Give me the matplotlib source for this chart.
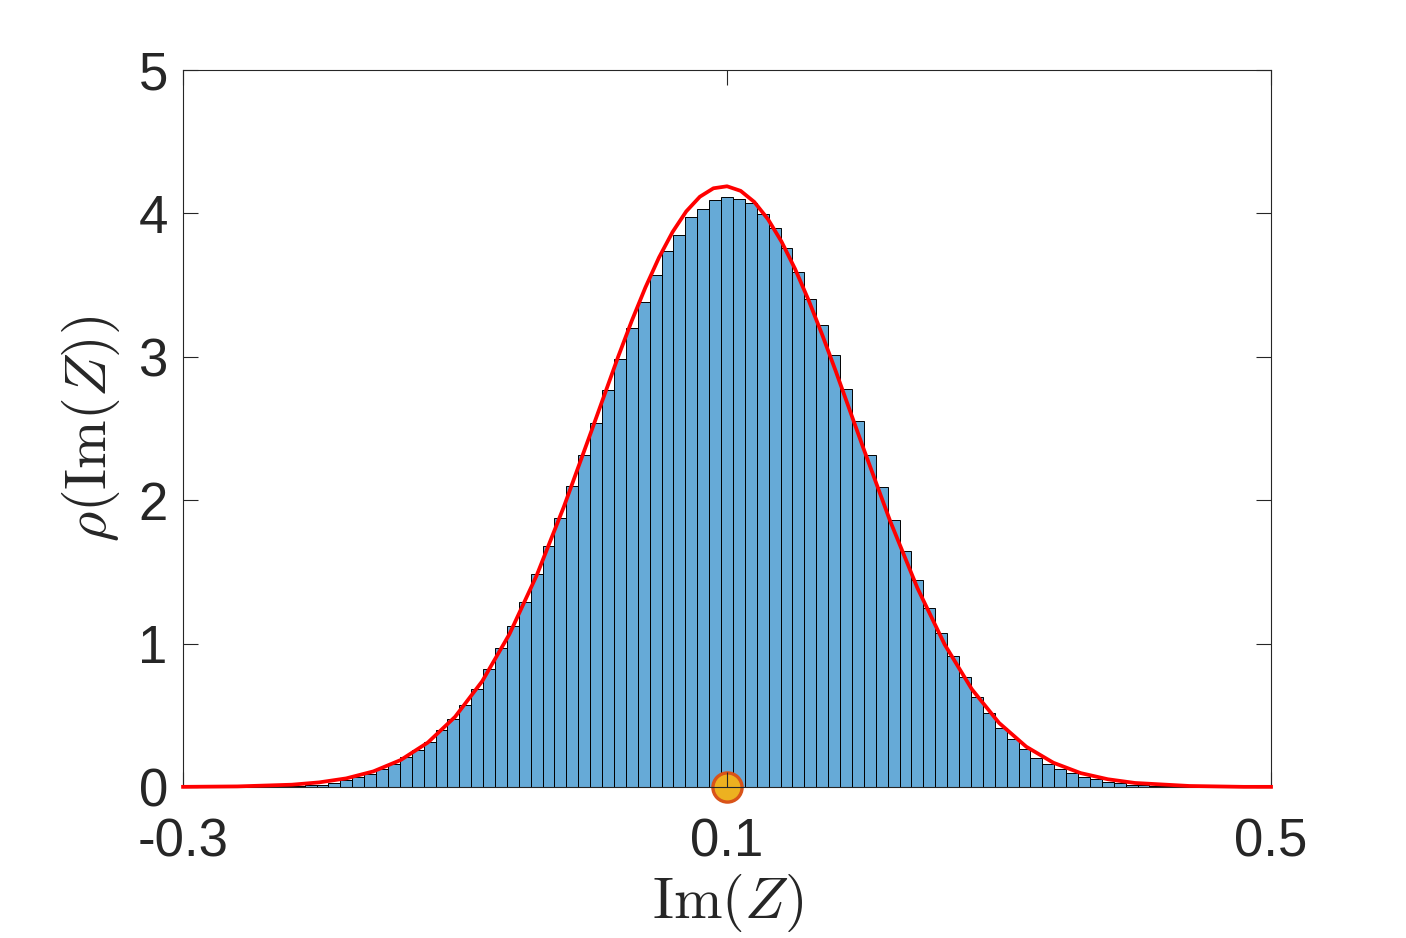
import matplotlib.pyplot as plt
import numpy as np

# histogram (pdf normalised), bins of width 0.00875, one bin centred on 0.1
bin_width = 0.00875
bin_index = np.arange(-40, 41)
heights = [0.002, 0.003, 0.004, 0.006, 0.008, 0.011,
           0.016, 0.030, 0.050, 0.069, 0.094, 0.127, 0.162, 0.206, 0.257, 0.317,
           0.394, 0.477, 0.575, 0.686, 0.822, 0.971, 1.122, 1.291, 1.482, 1.679,
           1.879, 2.098, 2.314, 2.537, 2.767, 2.987, 3.202, 3.383, 3.573, 3.740,
           3.847, 3.972, 4.032, 4.095, 4.114, 4.102, 4.070, 3.995, 3.895, 3.761,
           3.594, 3.405, 3.224, 3.015, 2.774, 2.553, 2.318, 2.095, 1.863, 1.645,
           1.445, 1.247, 1.071, 0.910, 0.769, 0.627, 0.513, 0.413, 0.332, 0.265,
           0.204, 0.160, 0.123, 0.095, 0.072, 0.054, 0.037, 0.026, 0.016, 0.011,
           0.007, 0.005, 0.003, 0.002, 0.001]

# red fitted density
curve_x = [-0.30, -0.26, -0.22, -0.20, -0.18, -0.16, -0.14, -0.12, -0.10, -0.08,
           -0.06, -0.04, -0.02, 0.00, 0.02, 0.03, 0.04, 0.05, 0.06, 0.07,
           0.08, 0.09, 0.10, 0.11, 0.12, 0.13, 0.14, 0.15, 0.16, 0.17,
           0.18, 0.20, 0.22, 0.24, 0.26, 0.28, 0.30, 0.32, 0.34, 0.36,
           0.38, 0.40, 0.44, 0.48, 0.50]
curve_y = [0.001, 0.004, 0.016, 0.032, 0.060, 0.109, 0.188, 0.310, 0.489, 0.738,
           1.066, 1.475, 1.954, 2.475, 3.002, 3.252, 3.484, 3.693, 3.871, 4.014,
           4.116, 4.175, 4.189, 4.157, 4.080, 3.961, 3.804, 3.613, 3.394, 3.153,
           2.898, 2.369, 1.853, 1.387, 0.994, 0.682, 0.447, 0.281, 0.169, 0.097,
           0.054, 0.028, 0.007, 0.001, 0.001]

point_x = [0.1]
point_y = [0.0]

xticks = [-0.3, 0.1, 0.5]
xtick_labels = ['-0.3', '0.1', '0.5']
yticks = [0, 1, 2, 3, 4, 5]

plt.rcParams['font.family'] = ['Liberation Sans', 'DejaVu Sans']
plt.rcParams['mathtext.fontset'] = 'cm'
dark = '#262626'

fig = plt.figure(figsize=(14.06, 9.38), dpi=100)
ax = fig.add_axes([0.1302, 0.161, 0.7738, 0.7644])

centers = 0.1 + bin_index * bin_width
ax.bar(centers, heights, width=bin_width, color='#66aad7',
       edgecolor='black', linewidth=0.7, zorder=1)
ax.plot(point_x, point_y, 'o', markersize=21, markerfacecolor='#edb120',
        markeredgecolor='#d95319', markeredgewidth=2.4, zorder=2, clip_on=False)
ax.plot(curve_x, curve_y, color='red', linewidth=2.7, zorder=3, clip_on=False)
ax.set_axisbelow(False)

ax.set_xlim(-0.3, 0.5)
ax.set_ylim(0, 5)
ax.set_xticks(xticks)
ax.set_xticklabels(xtick_labels)
ax.set_yticks(yticks)
ax.tick_params(direction='in', length=11, width=0.8, color=dark,
               labelcolor=dark, labelsize=38, top=True, right=True)
ax.tick_params(axis='x', pad=22)
ax.tick_params(axis='y', pad=11)
for s in ax.spines.values():
    s.set_color(dark)
    s.set_linewidth(0.8)

ax.set_xlabel(r'$\mathrm{Im}(Z)$', fontsize=42, color=dark, labelpad=3)
ax.set_ylabel(r'$\rho(\mathrm{Im}(Z))$', fontsize=42, color=dark, labelpad=12)

plt.savefig('out.png')
plt.close()
